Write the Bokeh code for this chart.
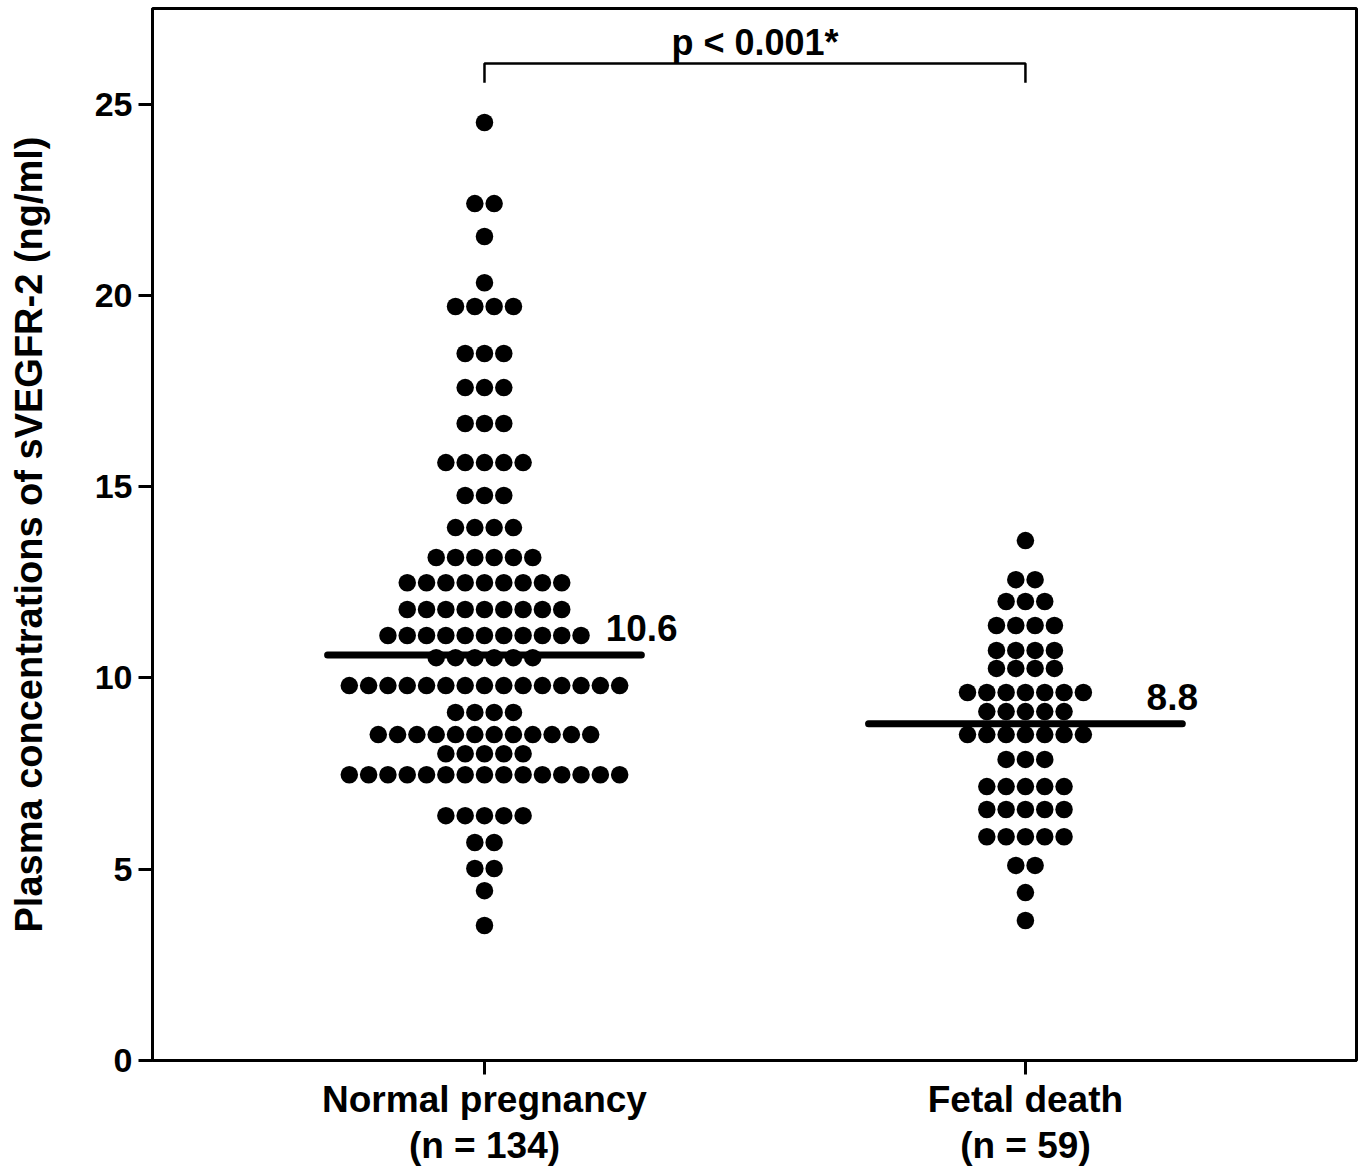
import numpy as np
from bokeh.plotting import figure
from bokeh.models import FixedTicker, Range1d, LinearAxis
from bokeh.core.properties import value
from bokeh.embed import file_html
from bokeh.resources import INLINE

# ---- data ----
groups = ["Normal pregnancy", "Fetal death"]
group_n = ["(n = 134)", "(n = 59)"]
group_pos = [1, 2]

normal_levels = [24.52, 22.40, 21.54, 20.33, 19.71, 18.48, 17.59, 16.65, 15.63, 14.77,
                 13.93, 13.15, 12.49, 11.79, 11.11, 10.53, 9.80, 9.10, 8.52, 8.02,
                 7.47, 6.40, 5.70, 5.02, 4.44, 3.53]
normal_counts = [1, 2, 1, 1, 4, 3, 3, 3, 5, 3,
                 4, 6, 9, 9, 11, 6, 15, 4, 12, 5,
                 15, 5, 2, 2, 1, 1]

fetal_levels = [13.59, 12.57, 12.00, 11.37, 10.72, 10.25, 9.62, 9.12, 8.52, 7.87,
                7.16, 6.56, 5.85, 5.10, 4.39, 3.66]
fetal_counts = [1, 2, 3, 4, 4, 4, 7, 5, 7, 3,
                5, 5, 5, 2, 1, 1]

means = [10.6, 8.8]
p_text = "p < 0.001*"
y_ticks = [0, 5, 10, 15, 20, 25]

FONT = "Liberation Sans"

# ---- figure ----
p = figure(width=1363, height=1169, output_backend="svg", toolbar_location=None,
           x_range=Range1d(0.3863, 2.612), y_range=Range1d(0, 27.5),
           min_border_left=152, min_border_right=7, min_border_top=8, min_border_bottom=109)
p.xgrid.visible = False
p.ygrid.visible = False
p.outline_line_color = "black"
p.outline_line_width = 3
p.outline_line_alpha = 1.0
p.background_fill_color = "white"
p.border_fill_color = "white"

# y axis
ya = p.yaxis[0]
ya.ticker = FixedTicker(ticks=y_ticks)
ya.axis_line_width = 3
ya.axis_line_color = "black"
ya.major_tick_line_width = 3
ya.major_tick_line_color = "black"
ya.major_tick_out = 14
ya.major_tick_in = 0
ya.minor_tick_out = 0
ya.minor_tick_in = 0
ya.major_label_text_font = FONT
ya.major_label_text_font_style = "bold"
ya.major_label_text_font_size = "34px"
ya.major_label_text_color = "black"
ya.major_label_standoff = 6
ya.axis_label = "Plasma concentrations of sVEGFR-2 (ng/ml)"
ya.axis_label_text_font = FONT
ya.axis_label_text_font_style = "bold"
ya.axis_label_text_font_size = "38px"
ya.axis_label_text_color = "black"
ya.axis_label_standoff = 42

# x axis (first line of category labels)
xa = p.xaxis[0]
xa.ticker = FixedTicker(ticks=group_pos)
xa.major_label_overrides = {pos: g for pos, g in zip(group_pos, groups)}
xa.axis_line_width = 3
xa.axis_line_color = "black"
xa.major_tick_line_width = 3
xa.major_tick_line_color = "black"
xa.major_tick_out = 14
xa.major_tick_in = 0
xa.minor_tick_out = 0
xa.minor_tick_in = 0
xa.major_label_text_font = FONT
xa.major_label_text_font_style = "bold"
xa.major_label_text_font_size = "37px"
xa.major_label_text_color = "black"
xa.major_label_standoff = 4

# second line of category labels as an extra axis below
xa2 = LinearAxis(ticker=FixedTicker(ticks=group_pos),
                 major_label_overrides={pos: t for pos, t in zip(group_pos, group_n)},
                 axis_line_color=None, major_tick_line_color=None, minor_tick_line_color=None,
                 major_tick_out=0, major_tick_in=0, minor_tick_out=0, minor_tick_in=0,
                 major_label_text_font=FONT, major_label_text_font_style="bold",
                 major_label_text_font_size="37px", major_label_text_color="black",
                 major_label_standoff=2)
p.add_layout(xa2, "below")

# ---- dots (beeswarm layout by rows) ----
dx = 0.0357
xs, ys = [], []
for center, levels, counts in [(1, normal_levels, normal_counts), (2, fetal_levels, fetal_counts)]:
    for lv, n in zip(levels, counts):
        for i in range(n):
            xs.append(center + (i - (n - 1) / 2) * dx)
            ys.append(lv)
p.scatter(x=xs, y=ys, size=17.5, marker="circle", fill_color="black", line_color="black", line_width=0)

# ---- mean lines and labels ----
half = 0.29
p.segment(x0=[c - half for c in group_pos], x1=[c + half for c in group_pos],
          y0=means, y1=means, line_color="black", line_width=7, line_cap="round")
lab_dy = 0.71
p.text(x=[c + 0.224 for c in group_pos], y=[m + lab_dy for m in means],
       text=[f"{m:.1f}" for m in means],
       text_font=value(FONT), text_font_style="bold", text_font_size="37px",
       text_align="left", text_baseline="alphabetic", text_color="black")

# ---- significance bracket ----
by = 26.06
p.line(x=[group_pos[0], group_pos[0], group_pos[1], group_pos[1]],
       y=[by - 0.5, by, by, by - 0.5], line_color="black", line_width=2.5)
p.text(x=[(group_pos[0] + group_pos[1]) / 2], y=[by + 0.56], text=[p_text],
       text_font=value(FONT), text_font_style="bold", text_font_size="36px",
       text_align="center", text_baseline="alphabetic", text_color="black")

open("out.html", "w").write(file_html(p, INLINE))
